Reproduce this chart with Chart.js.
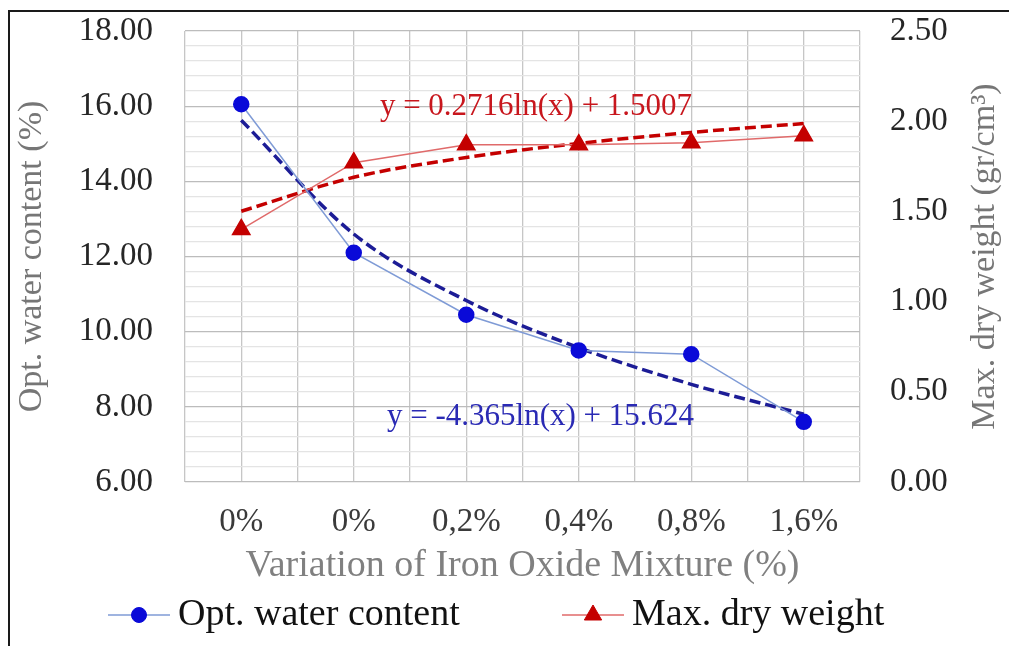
<!DOCTYPE html>
<html>
<head>
<meta charset="utf-8">
<title>Iron oxide mixture</title>
<script src="https://cdn.jsdelivr.net/npm/chart.js@4.4.0/dist/chart.umd.min.js"></script>
<style>
  html, body { margin: 0; padding: 0; background: #fff; }
</style>
</head>
<body>
<canvas id="canvas" width="1009" height="646"></canvas>
<script>
// mixture steps on the x axis
var mixture = ['0%', '0%', '0,2%', '0,4%', '0,8%', '1,6%'];
// optimum water content (%), left axis
var waterContent = [16.05, 12.1, 10.45, 9.5, 9.4, 7.6];
// maximum dry weight (gr/cm3), right axis
var dryWeight = [1.40, 1.77, 1.87, 1.87, 1.88, 1.92];
// log trendlines evaluated at x = 1..6
var waterTrend = [15.624, 12.598, 10.829, 9.573, 8.599, 7.803];
var dryTrend = [1.501, 1.689, 1.799, 1.877, 1.938, 1.987];
var waterEq = 'y = -4.365ln(x) + 15.624';
var dryEq = 'y = 0.2716ln(x) + 1.5007';

var serif = "'Liberation Serif', 'Times New Roman', serif";

function points(arr) {
    return arr.map(function (v, i) { return { x: i + 1, y: v }; });
}

// fixed axis sizes so the plot sits where it should
function fixWidth(w) {
    return function (s) {
        s.width = w;
        s.paddingTop = 0;
        s.paddingBottom = 0;
    };
}

var datasets = [
    {
        label: 'Opt. water content',
        data: points(waterContent),
        yAxisID: 'y',
        borderColor: '#7f9bd6',
        borderWidth: 1.5,
        pointStyle: 'circle',
        pointRadius: 7.5,
        pointBackgroundColor: '#0a0ad8',
        pointBorderColor: '#0a0ad8',
        order: 1
    },
    {
        label: 'Max. dry weight',
        data: points(dryWeight),
        yAxisID: 'y1',
        borderColor: '#e06a6a',
        borderWidth: 1.5,
        pointStyle: 'triangle',
        pointRadius: 10,
        pointBackgroundColor: '#c40000',
        pointBorderColor: '#c40000',
        order: 2
    },
    {
        label: 'trend water',
        data: points(waterTrend),
        yAxisID: 'y',
        borderColor: '#1c1c96',
        borderWidth: 3.5,
        borderDash: [11, 5],
        pointRadius: 0,
        cubicInterpolationMode: 'monotone',
        order: 3
    },
    {
        label: 'trend dry',
        data: points(dryTrend),
        yAxisID: 'y1',
        borderColor: '#c40000',
        borderWidth: 3.5,
        borderDash: [11, 5],
        pointRadius: 0,
        cubicInterpolationMode: 'monotone',
        order: 4
    }
];

// frame, right title, trend equations and legend
var extras = {
    id: 'extras',
    beforeDraw: function (chart) {
        var ctx = chart.ctx;
        ctx.save();
        ctx.fillStyle = '#fff';
        ctx.fillRect(0, 0, chart.width, chart.height);
        ctx.strokeStyle = '#1a1a1a';
        ctx.lineWidth = 2;
        ctx.beginPath();
        ctx.moveTo(9, chart.height);
        ctx.lineTo(9, 11);
        ctx.lineTo(chart.width, 11);
        ctx.stroke();
        ctx.restore();
    },
    afterDraw: function (chart) {
        var ctx = chart.ctx;
        var sx = chart.scales.x, sy = chart.scales.y, sy1 = chart.scales.y1;
        ctx.save();

        // right axis title, reads bottom to top
        ctx.translate(985, (chart.chartArea.top + chart.chartArea.bottom) / 2);
        ctx.rotate(-Math.PI / 2);
        ctx.font = '34px ' + serif;
        ctx.fillStyle = '#767676';
        ctx.textAlign = 'center';
        ctx.textBaseline = 'middle';
        ctx.fillText('Max. dry weight (gr/cm\u00b3)', 0, 0);
        ctx.setTransform(1, 0, 0, 1, 0, 0);

        // trendline equations
        ctx.font = '31px ' + serif;
        ctx.fillStyle = '#c8161d';
        ctx.fillText(dryEq, sx.getPixelForValue(3.62), sy1.getPixelForValue(2.08));
        ctx.fillStyle = '#2a2ab4';
        ctx.fillText(waterEq, sx.getPixelForValue(3.66), sy.getPixelForValue(7.72));

        // legend
        var items = [
            { ds: datasets[0], cx: 139, tx: 178 },
            { ds: datasets[1], cx: 593, tx: 632 }
        ];
        var ly = 615;
        items.forEach(function (it) {
            ctx.strokeStyle = it.ds.borderColor;
            ctx.lineWidth = it.ds.borderWidth;
            ctx.beginPath();
            ctx.moveTo(it.cx - 31, ly);
            ctx.lineTo(it.cx + 31, ly);
            ctx.stroke();
            ctx.fillStyle = it.ds.pointBackgroundColor;
            ctx.strokeStyle = it.ds.pointBorderColor;
            ctx.lineWidth = 1;
            Chart.helpers.drawPoint(ctx, {
                pointStyle: it.ds.pointStyle,
                radius: it.ds.pointRadius,
                rotation: 0,
                borderWidth: 1
            }, it.cx, ly);
            ctx.font = '38px ' + serif;
            ctx.fillStyle = '#111';
            ctx.textAlign = 'left';
            ctx.textBaseline = 'middle';
            ctx.fillText(it.ds.label, it.tx, ly);
        });
        ctx.restore();
    }
};

var chart = new Chart(document.getElementById('canvas'), {
    type: 'line',
    data: { datasets: datasets },
    plugins: [extras],
    options: {
        responsive: false,
        animation: false,
        devicePixelRatio: 1,
        layout: { padding: { top: 31, bottom: 55, left: 0, right: 0 } },
        plugins: {
            legend: { display: false },
            tooltip: { enabled: false }
        },
        scales: {
            x: {
                type: 'linear',
                min: 0.5,
                max: 6.5,
                afterFit: function (s) { s.height = 109; },
                grid: { color: '#c6c6c6', lineWidth: 1.3, drawTicks: false },
                border: { display: false },
                ticks: {
                    stepSize: 0.5,
                    autoSkip: false,
                    maxRotation: 0,
                    padding: 21,
                    color: '#3a3a3a',
                    font: { family: serif, size: 33 },
                    callback: function (v) {
                        return Number.isInteger(v) ? mixture[v - 1] : '';
                    }
                },
                title: {
                    display: true,
                    text: 'Variation of Iron Oxide Mixture (%)',
                    color: '#808080',
                    font: { family: serif, size: 38 },
                    padding: { top: 0, bottom: 2 }
                }
            },
            y: {
                position: 'left',
                min: 6,
                max: 18,
                afterFit: fixWidth(185),
                grid: {
                    drawTicks: false,
                    lineWidth: 1.3,
                    color: function (c) { return c.index % 5 === 0 ? '#bcbcbc' : '#e4e4e4'; }
                },
                border: { display: false },
                ticks: {
                    stepSize: 0.4,
                    autoSkip: false,
                    padding: 32,
                    color: '#262626',
                    font: { family: serif, size: 33 },
                    callback: function (v, i) { return i % 5 === 0 ? v.toFixed(2) : ''; }
                },
                title: {
                    display: true,
                    text: 'Opt. water content (%)',
                    color: '#767676',
                    font: { family: serif, size: 34 },
                    padding: { top: 12, bottom: 0 }
                }
            },
            y1: {
                position: 'right',
                min: 0,
                max: 2.5,
                afterFit: fixWidth(149),
                grid: { drawOnChartArea: false, drawTicks: false },
                border: { display: false },
                ticks: {
                    stepSize: 0.5,
                    padding: 30,
                    color: '#262626',
                    font: { family: serif, size: 33 },
                    callback: function (v) { return v.toFixed(2); }
                }
            }
        }
    }
});
</script>
</body>
</html>
